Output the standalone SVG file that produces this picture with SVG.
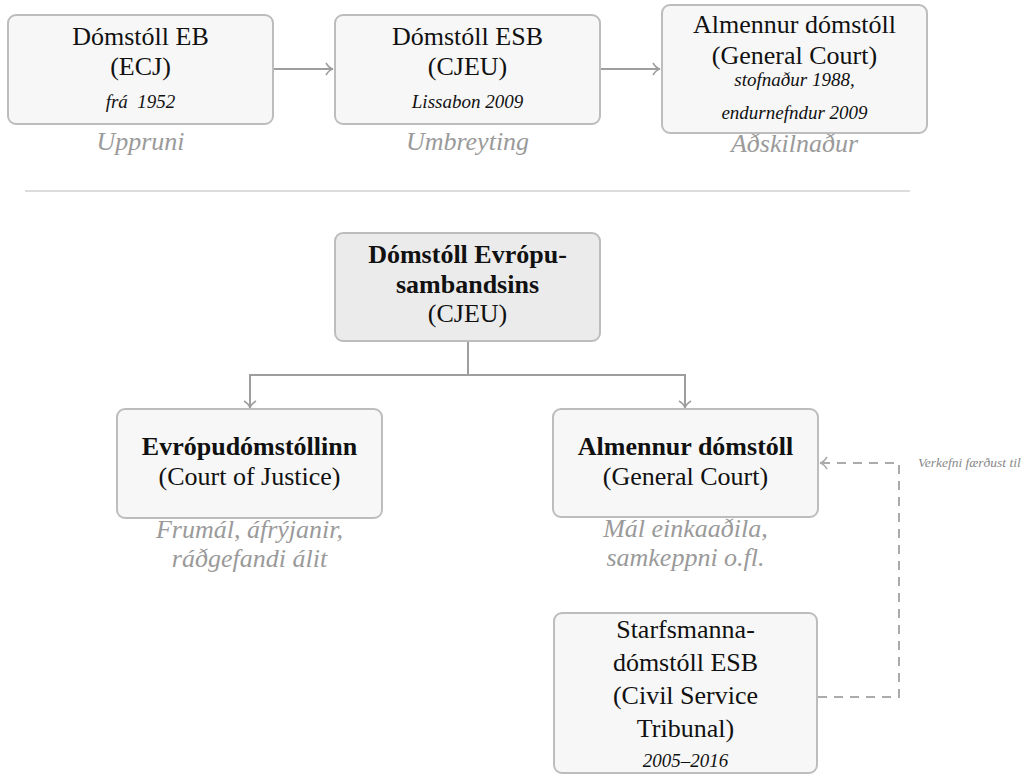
<svg xmlns="http://www.w3.org/2000/svg" width="1029" height="775" viewBox="0 0 1029 775">
<style>
.box{fill:#f7f7f7;stroke:#bdbdbd;stroke-width:2}
.main{fill:#ebebeb;stroke:#bdbdbd;stroke-width:2}
text{font-family:"Liberation Serif","Times New Roman",serif;text-anchor:middle;fill:#111}
.t{font-size:26px}
.b{font-size:26px;font-weight:bold}
.i{font-size:19px;font-style:italic}
.cap{font-size:26px;font-style:italic;fill:#9a9a9a}
.lbl{font-size:13.5px;font-style:italic;fill:#888;text-anchor:start}
.c{fill:none;stroke:#9e9e9e;stroke-width:2}
.d{fill:none;stroke:#ababab;stroke-width:2;stroke-dasharray:9,7}
</style>
<defs>
<marker id="ah" markerWidth="12" markerHeight="14" refX="10" refY="7" orient="auto" markerUnits="userSpaceOnUse">
<path d="M3,1 Q6,6 10,7 Q6,8 3,13" fill="none" stroke="#9e9e9e" stroke-width="1.6"/>
</marker>
<marker id="ahd" markerWidth="12" markerHeight="14" refX="10" refY="7" orient="auto" markerUnits="userSpaceOnUse">
<path d="M3,1 Q6,6 10,7 Q6,8 3,13" fill="none" stroke="#ababab" stroke-width="1.6"/>
</marker>
</defs>

<g id="connectors">
<line class="c" x1="274" y1="69" x2="333" y2="69" marker-end="url(#ah)"/>
<line class="c" x1="601" y1="69" x2="660" y2="69" marker-end="url(#ah)"/>
<line x1="25" y1="191" x2="910" y2="191" stroke="#dcdcdc" stroke-width="2"/>
<polyline class="c" points="468,342 468,375 250,375 250,408" marker-end="url(#ah)"/>
<polyline class="c" points="468,375 685,375 685,408" marker-end="url(#ah)"/>
<polyline class="d" points="818,697 899,697 899,463 820,463" marker-end="url(#ahd)"/>
<text class="lbl" x="918" y="467">Verkefni færðust til</text>
</g>

<g id="ecj">
<rect class="box" x="8" y="15" width="265" height="109" rx="8"/>
<text class="t" x="140.5" y="45">Dómstóll EB</text>
<text class="t" x="140.5" y="75">(ECJ)</text>
<text class="i" x="140.5" y="108" xml:space="preserve">frá  1952</text>
<text class="cap" x="140.5" y="150">Uppruni</text>
</g>

<g id="cjeu-old">
<rect class="box" x="335" y="15" width="265" height="109" rx="8"/>
<text class="t" x="467.5" y="45">Dómstóll ESB</text>
<text class="t" x="467.5" y="75">(CJEU)</text>
<text class="i" x="467.5" y="108">Lissabon 2009</text>
<text class="cap" x="467.5" y="150">Umbreyting</text>
</g>

<g id="gc-old">
<rect class="box" x="662" y="5" width="265" height="128" rx="8"/>
<text class="t" x="794.5" y="33">Almennur dómstóll</text>
<text class="t" x="794.5" y="64">(General Court)</text>
<text class="i" x="794.5" y="86">stofnaður 1988,</text>
<text class="i" x="794.5" y="119">endurnefndur 2009</text>
<text class="cap" x="794.5" y="152">Aðskilnaður</text>
</g>

<g id="cjeu">
<rect class="main" x="335" y="233" width="265" height="108" rx="8"/>
<text class="b" x="467.5" y="263">Dómstóll Evrópu-</text>
<text class="b" x="467.5" y="293">sambandsins</text>
<text class="t" x="467.5" y="322">(CJEU)</text>
</g>

<g id="coj">
<rect class="box" x="117" y="409" width="265" height="109" rx="8"/>
<text class="b" x="249.5" y="455">Evrópudómstóllinn</text>
<text class="t" x="249.5" y="485">(Court of Justice)</text>
<text class="cap" x="249.5" y="538">Frumál, áfrýjanir,</text>
<text class="cap" x="249.5" y="567">ráðgefandi álit</text>
</g>

<g id="gc">
<rect class="box" x="553" y="409" width="265" height="108" rx="8"/>
<text class="b" x="685.5" y="455">Almennur dómstóll</text>
<text class="t" x="685.5" y="485">(General Court)</text>
<text class="cap" x="685.5" y="537">Mál einkaaðila,</text>
<text class="cap" x="685.5" y="566">samkeppni o.fl.</text>
</g>

<g id="cst">
<rect class="box" x="554" y="613" width="263" height="160" rx="8"/>
<text class="t" x="685.5" y="638">Starfsmanna-</text>
<text class="t" x="685.5" y="671">dómstóll ESB</text>
<text class="t" x="685.5" y="704">(Civil Service</text>
<text class="t" x="685.5" y="737">Tribunal)</text>
<text class="i" x="685.5" y="767">2005–2016</text>
</g>
</svg>
